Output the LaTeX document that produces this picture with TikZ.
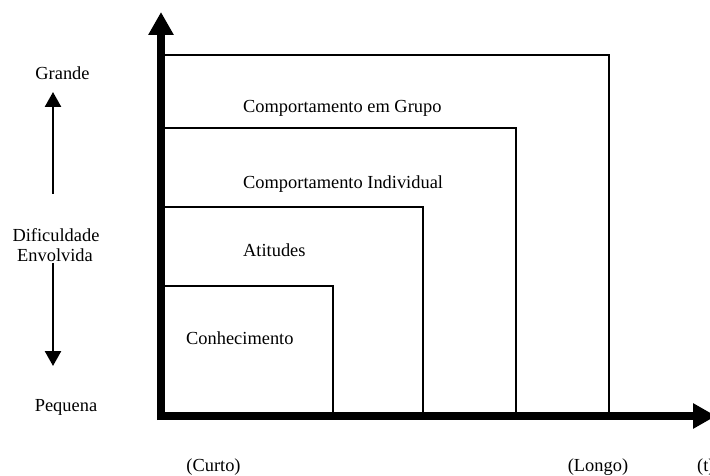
\documentclass[tikz,border=0pt]{standalone}
\usepackage{fontspec}
\setmainfont{Liberation Serif}
\usetikzlibrary{arrows.meta}
\begin{document}
\begin{tikzpicture}[x=1bp,y=-1bp,
  lbl/.style={inner sep=0pt,anchor=base,font=\fontsize{18.4bp}{22bp}\selectfont},
  lbll/.style={lbl,anchor=base west},
  axis/.style={line width=8bp,-{Triangle[length=23bp,width=24bp]}},
  boxline/.style={line width=1.8bp},
  diffarrow/.style={line width=2.5bp,-{Triangle[length=15bp,width=16bp]}}]
\useasboundingbox (0,0) rectangle (710,476);
% box outlines
\coordinate (b1t) at (333,286);
\coordinate (b2t) at (423,207);
\coordinate (b3t) at (516,128);
\coordinate (b4t) at (609,55);
\foreach \b in {b1t,b2t,b3t,b4t}{
  \draw[boxline] (161,0 |- \b) -- (\b) -- (\b |- 0,416);
}
% axes
\coordinate (orig) at (157,416);
\coordinate (vbot) at (161,420);
\coordinate (vtop) at (161,12);
\coordinate (hend) at (716,416);
\draw[axis] (vbot) -- (vtop);
\draw[axis] (orig) -- (hend);
% left labels and arrows
\node[lbl] (grande) at (62.5,80) {Grande};
\node[lbl] (dific) at (56,241.5) {Dificuldade};
\node[lbl] (envol) at (55,262) {Envolvida};
\node[lbl] (pequena) at (66,411) {Pequena};
\coordinate (upfrom) at (53,194);
\coordinate (upto) at (53,92);
\coordinate (dnfrom) at (53,263);
\coordinate (dnto) at (53,366);
\draw[diffarrow] (upfrom) -- (upto);
\draw[diffarrow] (dnfrom) -- (dnto);
% box labels
\node[lbll] (conh) at (186,345) {Conhecimento};
\node[lbll] (atit) at (243,256.5) {Atitudes};
\node[lbll] (cind) at (243,189) {Comportamento Individual};
\node[lbll] (cgrp) at (243,113) {Comportamento em Grupo};
% bottom labels
\node[lbl] (curto) at (213.5,471) {(Curto)};
\node[lbl] (longo) at (598,471) {(Longo)};
\node[lbll] (tlab) at (697,471) {(t)};
\end{tikzpicture}
\end{document}
